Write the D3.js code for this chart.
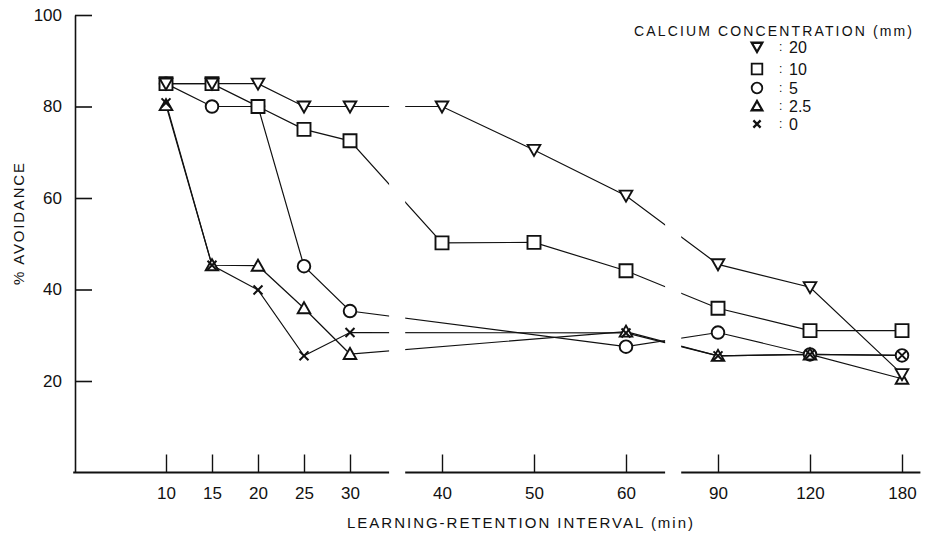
<!DOCTYPE html>
<html><head><meta charset="utf-8">
<script src="https://cdn.jsdelivr.net/npm/d3@7"></script>
<style>
body{margin:0;background:#fff}
svg{display:block;background:#fff}
text{font-family:"Liberation Sans",Arial,sans-serif;fill:#111}
</style>
</head><body>
<svg id="c" width="939" height="535"></svg>
<script>
// ---- data ----
const categories = [10, 15, 20, 25, 30, 40, 50, 60, 90, 120, 180];
const yTicks = [20, 40, 60, 80, 100];
const seriesLabels = ["20", "10", "5", "2.5", "0"];
const ca20 = [85, 85, 85, 80, 80, 80, 70.5, 60.5, 45.5, 40.5, 21.5];
const ca10 = [85, 85, 80, 75, 72.5, 50.2, 50.3, 44.1, 35.9, 31, 31];
const ca5  = [85, 80, 80, 45.1, 35.3, null, null, 27.5, 30.6, 25.8, 25.6];
const ca25 = [80.3, 45.3, 45.2, 35.9, 25.9, null, null, 30.8, 25.5, 25.8, 20.5];
const ca0  = [80.8, 45.3, 39.9, 25.5, 30.6, null, null, 30.5, 25.5, 25.8, 25.6];
const legendTitle = "CALCIUM CONCENTRATION (mm)";
const xTitle = "LEARNING-RETENTION INTERVAL (min)";
const yTitle = "% AVOIDANCE";

// ---- layout ----
const svg = d3.select("#c");
const ink = "#111";
const xUnit = d3.scaleLinear().domain([0, 16]).range([166, 902]);
// broken axis: piecewise linear scale
const x = d3.scaleLinear()
  .domain([10, 30, 60, 90, 120, 180])
  .range([0, 4, 10, 12, 14, 16].map(xUnit));
const y = d3.scaleLinear().domain([0, 100]).range([472.5, 15]);
const segUnits = [[-2.0, 4.85], [5.2, 10.85], [11.2, 16.4]];

// clip for broken lines
const defs = svg.append("defs");
const clip = defs.append("clipPath").attr("id", "brk");
segUnits.forEach(s => clip.append("rect")
  .attr("x", xUnit(s[0])).attr("y", 0)
  .attr("width", xUnit(s[1]) - xUnit(s[0])).attr("height", 535));

// y axis
const ya = svg.append("g").attr("transform", "translate(75,0)")
  .call(d3.axisLeft(y).tickValues(yTicks).tickSizeInner(-17).tickSizeOuter(0).tickPadding(13));
ya.attr("font-family", null).attr("font-size", null);
ya.selectAll("path,line").attr("stroke", ink).attr("stroke-width", 1.6);
ya.selectAll("text").style("font-size", "17px").attr("fill", ink);

// x axis
const xa = svg.append("g").attr("transform", `translate(0,${y(0)})`)
  .call(d3.axisBottom(x).tickValues(categories).tickFormat(d3.format("d"))
    .tickSizeInner(-18).tickSizeOuter(0).tickPadding(14));
xa.attr("font-family", null).attr("font-size", null);
xa.select(".domain").remove();
xa.selectAll("line").attr("stroke", ink).attr("stroke-width", 1.4);
xa.selectAll("text").style("font-size", "17px").attr("fill", ink);
segUnits.forEach(s => xa.append("line")
  .attr("x1", xUnit(s[0]) - (s[0] < 0 ? 0.8 : 0)).attr("x2", xUnit(s[1]))
  .attr("y1", 0).attr("y2", 0)
  .attr("stroke", ink).attr("stroke-width", 1.8));

// titles
svg.append("text").attr("x", 520).attr("y", 522)
  .attr("text-anchor", "middle").attr("dominant-baseline", "central")
  .attr("textLength", 346).attr("lengthAdjust", "spacing")
  .style("font-size", "15px").text(xTitle);
svg.append("text").attr("transform", "translate(18,224) rotate(-90)")
  .attr("text-anchor", "middle").attr("dominant-baseline", "central")
  .attr("textLength", 122).attr("lengthAdjust", "spacing")
  .style("font-size", "15px").text(yTitle);

// marker shapes
const shapes = {
  tdown: s => `M${-s},${-s*0.8}L${s},${-s*0.8}L0,${s*0.95}Z`,
  square: s => `M${-s},${-s}H${s}V${s}H${-s}Z`,
  circle: s => `M${s},0A${s},${s} 0 1,1 ${-s},0A${s},${s} 0 1,1 ${s},0Z`,
  tup: s => `M${-s},${s*0.8}L${s},${s*0.8}L0,${-s*0.95}Z`,
  cross: s => `M${-s*0.8},${-s*0.8}L${s*0.8},${s*0.8}M${-s*0.8},${s*0.8}L${s*0.8},${-s*0.8}`
};
const series = [
  {vals: ca20, shape: "tdown", label: seriesLabels[0]},
  {vals: ca10, shape: "square", label: seriesLabels[1]},
  {vals: ca5, shape: "circle", label: seriesLabels[2]},
  {vals: ca25, shape: "tup", label: seriesLabels[3]},
  {vals: ca0, shape: "cross", label: seriesLabels[4]}
];
series.forEach(s => s.pts = categories.map((c, i) => ({c, v: s.vals[i]})).filter(d => d.v != null));

// lines
const line = d3.line().x(d => x(d.c)).y(d => y(d.v));
const lg = svg.append("g").attr("clip-path", "url(#brk)");
series.forEach(s => lg.append("path").attr("d", line(s.pts))
  .attr("fill", "none").attr("stroke", ink).attr("stroke-width", 1.2));

// markers (draw order for overlaps)
const markerSize = {tdown: 6.3, square: 6.5, circle: 6.3, tup: 6.3, cross: 5.6};
[2, 3, 1, 0, 4].forEach(k => {
  const s = series[k];
  svg.append("g").selectAll("path").data(s.pts).join("path")
    .attr("transform", d => `translate(${x(d.c)},${y(d.v)})`)
    .attr("d", shapes[s.shape](markerSize[s.shape]))
    .attr("fill", s.shape === "cross" ? "none" : "#fff")
    .attr("stroke", ink).attr("stroke-width", s.shape === "cross" ? 2 : 1.9);
});

// legend
svg.append("text").attr("x", 773).attr("y", 31)
  .attr("text-anchor", "middle").attr("dominant-baseline", "central")
  .attr("textLength", 278).attr("lengthAdjust", "spacing")
  .style("font-size", "14px").text(legendTitle);
const legRows = [47, 69, 88, 106, 124];
series.forEach((s, i) => {
  const g = svg.append("g").attr("transform", `translate(757,${legRows[i]})`);
  g.append("path").attr("d", shapes[s.shape](s.shape === "cross" ? 4.5 : 5.3))
    .attr("fill", s.shape === "cross" ? "none" : "#fff")
    .attr("stroke", ink).attr("stroke-width", s.shape === "square" || s.shape === "circle" ? 1.8 : 2.3);
  g.append("text").attr("x", 22).attr("dominant-baseline", "central")
    .style("font-size", "12px").attr("fill", "#999").text(":");
  g.append("text").attr("x", 32).attr("dominant-baseline", "central")
    .style("font-size", "16px").text(s.label);
});
</script>
</body></html>
